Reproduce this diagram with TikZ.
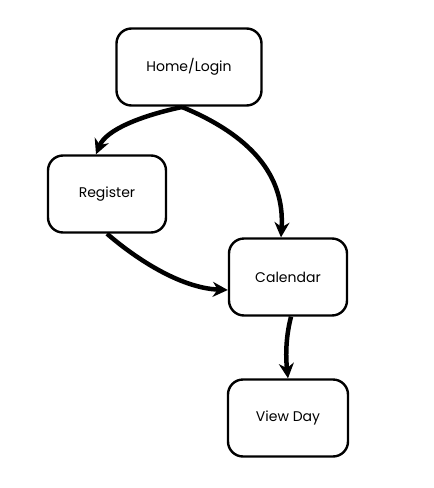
\documentclass[tikz,border=0pt]{standalone}
\usepackage{fontspec}
\setmainfont{Poppins}
\usetikzlibrary{arrows.meta}
\tikzset{>={Stealth[length=15pt,width=15pt]}}
\tikzset{screen/.style={draw, line width=2.4pt, rounded corners=15pt, minimum width=118pt, minimum height=77pt, font=\fontsize{14}{16}\selectfont}}
\tikzset{flow/.style={->, line width=4.5pt}}

\begin{document}
\begin{tikzpicture}[x=1pt, y=-1pt]
\useasboundingbox (0,0) rectangle (434,488);
\node[screen, minimum width=145pt] (home) at (189,67) {Home/Login};
\node[screen] (reg) at (107,194) {Register};
\node[screen] (cal) at (288,277) {Calendar};
\node[screen, minimum width=120pt] (day) at (288,418) {View Day};
\coordinate (H) at (182,107);
\draw[flow] (H) .. controls (140,116) and (106,130) .. (reg.north -| 96,0);
\draw[flow] (H) .. controls (250,135) and (285,175) .. (cal.north -| 281,0);
\draw[flow] (reg.south) .. controls (135,258) and (180,288) .. (cal.west |- 0,290);
\draw[flow] (cal.south -| 291,0) .. controls (285,340) and (286,360) .. (day.north -| 288,0);
\end{tikzpicture}
\end{document}
